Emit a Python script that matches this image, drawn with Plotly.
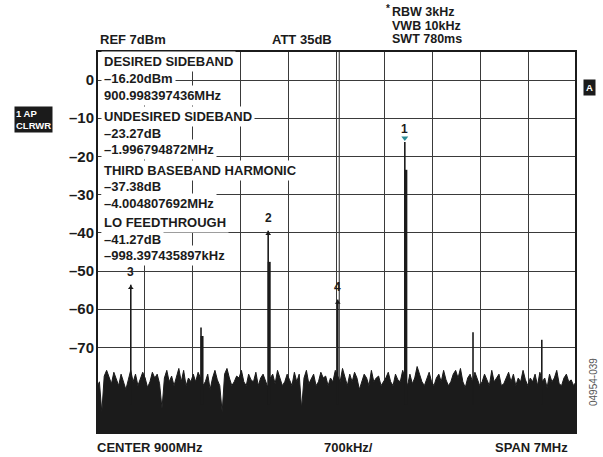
import numpy as np
import plotly.graph_objects as go

# sweep settings
center_mhz = 900.0
span_mhz = 7.0
ref_level = 7.6
floor_level = -92.4

# noise floor, read across the sweep (dBm)
noise_dbm = [
    -80.5, -79, -87, -77.5, -76, -78, -79.5, -76.5, -78, -80, -77, -79, -81, -78.5, -76, -79, -77, -80, -78, -76.5,
    -78, -80.5, -79, -76.5, -78, -77, -79.5, -86, -78, -76, -79, -77.5, -80, -78, -75.5, -79, -76, -80, -78, -79,
    -77, -79, -76.5, -78, -80, -79, -77, -81, -78, -76, -78.5, -80, -87, -77, -75.5, -78, -80, -79, -77.5, -78,
    -76, -79, -80, -77, -78.5, -79, -76.5, -80, -78, -77, -79, -80.5, -78, -77, -79.5, -76, -78, -80, -79, -77,
    -78.5, -80, -76.5, -79, -77, -86, -78, -76, -79.5, -78, -77, -80, -79, -76.5, -78, -77.5, -80, -78, -79, -76,
    -77.5, -79, -75.5, -78, -80, -77, -79, -76.5, -78, -81, -79, -77, -78, -80, -76, -79, -78, -77.5, -80, -79,
    -78, -76.5, -79, -80, -77, -78.5, -79, -76, -78, -80, -77, -79.5, -78, -75, -77, -79, -80, -78, -76.5, -79,
    -80, -78, -77, -79, -76, -78.5, -80, -79, -77, -76, -78, -75.5, -79, -80.5, -78, -77, -79, -76.5, -78, -80,
    -79, -77, -78.5, -80, -76, -79, -78, -77, -80, -79.5, -78, -76.5, -79, -77, -80, -78, -79, -76, -78.5, -80,
    -78, -79, -77, -80, -76.5, -79, -78, -80.5, -77, -79, -78, -76, -79.5, -80, -78, -77, -79, -78.5, -80, -79,
]

# discrete spurs: frequency (MHz), peak (dBm), adjacent bin (dBm)
spur_freq = [896.9936, 898.02, 899.0016, 900.018, 900.9984, 901.995, 903.0]
spur_peak = [-53.58, -64.8, -39.47, -57.47, -16.20, -66.0, -68.0]
spur_shoulder = [None, -67.0, -47.6, None, -23.5, None, None]

# markers
marker_label = ["1", "2", "3", "4"]
marker_freq = [900.9984, 899.0016, 896.9936, 900.018]
marker_level = [-16.20, -39.47, -53.58, -57.47]

# marker readout block
readout = [
    ["DESIRED SIDEBAND", "–16.20dBm", "900.998397436MHz"],
    ["UNDESIRED SIDEBAND", "–23.27dB", "–1.996794872MHz"],
    ["THIRD BASEBAND HARMONIC", "–37.38dB", "–4.004807692MHz"],
    ["LO FEEDTHROUGH", "–41.27dB", "–998.397435897kHz"],
]

y_ticks = [0, -10, -20, -30, -40, -50, -60, -70]
y_ticktext = ["0", "–10", "–20", "–30", "–40", "–50", "–60", "–70"]

FONT = "Liberation Sans, Arial, sans-serif"
x0 = center_mhz - span_mhz / 2
x1 = center_mhz + span_mhz / 2
freqs = np.linspace(x0, x1, len(noise_dbm))

fig = go.Figure()

# baseline for the fill
fig.add_trace(go.Scatter(x=[x0, x1], y=[-100, -100], mode="lines",
                         line=dict(width=0), hoverinfo="skip", showlegend=False))
fig.add_trace(go.Scatter(x=freqs, y=noise_dbm, mode="lines", fill="tonexty",
                         fillcolor="#1b1b1b", line=dict(color="#1b1b1b", width=1),
                         showlegend=False))

for f, p, s in zip(spur_freq, spur_peak, spur_shoulder):
    fig.add_trace(go.Scatter(x=[f, f], y=[-85, p], mode="lines",
                             line=dict(color="#1b1b1b", width=1.6), showlegend=False))
    if s is not None:
        fig.add_trace(go.Scatter(x=[f + 0.015, f + 0.015], y=[-85, s], mode="lines",
                                 line=dict(color="#1b1b1b", width=3), showlegend=False))

# marker heads
fig.add_trace(go.Scatter(x=marker_freq[:1], y=[marker_level[0] + 1.0], mode="markers",
                         marker=dict(symbol="triangle-down", size=6, color="#2a8a96"),
                         showlegend=False))
fig.add_trace(go.Scatter(x=marker_freq[1:], y=[v - 0.8 for v in marker_level[1:]], mode="markers",
                         marker=dict(symbol="triangle-up", size=5, color="#1b1b1b"),
                         showlegend=False))

for lab, f, v in zip(marker_label, marker_freq, marker_level):
    fig.add_annotation(x=f, y=v, text="<b>%s</b>" % lab, showarrow=False,
                       yshift=13, font=dict(family=FONT, size=12, color="#1b1b1b"))

# center line is drawn doubled on the screen
fig.add_shape(type="line", x0=center_mhz + 0.04, x1=center_mhz + 0.04, y0=floor_level, y1=ref_level,
              line=dict(color="#222", width=1), layer="below")

# readout text with white backing
line_y = [62, 79, 95, 116, 133, 149, 170, 187, 203, 222, 239, 255]
k = 0
for block in readout:
    for t in block:
        fig.add_annotation(xref="paper", yref="paper", x=(101 - 97) / 479, y=1 - (line_y[k] - 51) / 382,
                           text="<b>%s</b>" % t, showarrow=False, xanchor="left", yanchor="middle",
                           bgcolor="white", borderpad=2,
                           font=dict(family=FONT, size=13, color="#1b1b1b"))
        k += 1

# header and footer text
def px_note(x, y, text, anchor="left", size=13, color="#1b1b1b", bold=True, **kw):
    fig.add_annotation(xref="paper", yref="paper", x=(x - 97) / 479, y=1 - (y - 51) / 382,
                       text=("<b>%s</b>" % text) if bold else text, showarrow=False,
                       xanchor=anchor, yanchor="middle",
                       font=dict(family=FONT, size=size, color=color), **kw)

px_note(98, 39, "REF 7dBm")
px_note(270, 39, "ATT 35dB")
px_note(390, 12, "RBW 3kHz", size=12.5)
px_note(390, 25.5, "VWB 10kHz", size=12.5)
px_note(390, 39, "SWT 780ms", size=12.5)
px_note(384, 8, "*", size=10)
px_note(95, 447, "CENTER 900MHz")
px_note(348, 447, "700kHz/", anchor="center")
px_note(570, 447, "SPAN 7MHz", anchor="right")
px_note(593, 382, "04954-039", anchor="center", size=10, color="#555", bold=False, textangle=-90)
px_note(33, 120, "1 AP<br>CLRWR", anchor="center", size=9.5, color="white",
        bgcolor="#1b1b1b", borderpad=1, align="left")
px_note(589, 87, "A", anchor="center", size=9.5, color="white", bgcolor="#1b1b1b", borderpad=2)

# frame
fig.add_shape(type="rect", xref="paper", yref="paper", x0=0, x1=1, y0=0, y1=1,
              line=dict(color="#1b1b1b", width=2))

fig.update_xaxes(range=[x0, x1], tick0=x0, dtick=0.7, showticklabels=False, ticks="",
                 showgrid=True, gridcolor="#3a3a3a", gridwidth=1, zeroline=False, showline=False)
fig.update_yaxes(range=[floor_level, ref_level], tickvals=y_ticks, ticktext=y_ticktext,
                 tickfont=dict(family=FONT, size=15, color="#1b1b1b", weight="bold"),
                 ticks="", ticklabelstandoff=2, showgrid=True, gridcolor="#3a3a3a", gridwidth=1,
                 zeroline=False, showline=False)
fig.update_layout(width=603, height=457, margin=dict(l=97, r=27, t=51, b=24),
                  paper_bgcolor="white", plot_bgcolor="white", showlegend=False)

fig.write_html("out.html", config={"displayModeBar": False},
               post_script="document.body.style.margin='0px';")
